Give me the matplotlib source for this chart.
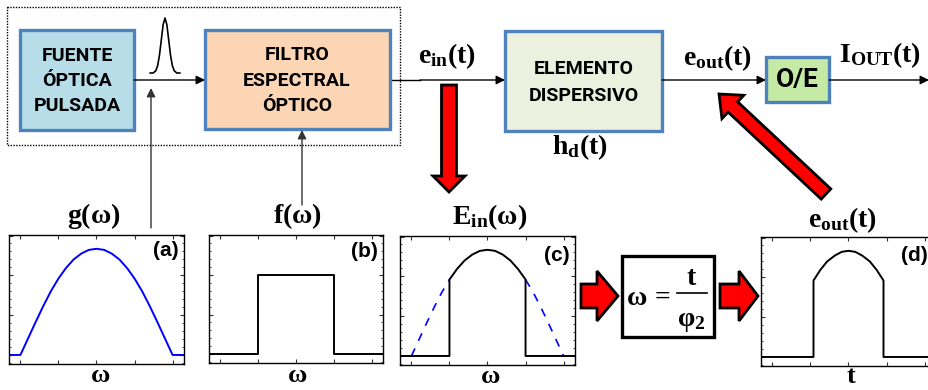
import matplotlib
matplotlib.use("Agg")
import matplotlib.pyplot as plt
from matplotlib.patches import Rectangle, FancyArrow
from matplotlib.ticker import MultipleLocator

plt.rcParams["mathtext.fontset"] = "custom"
plt.rcParams["mathtext.rm"] = "Liberation Serif:bold"
plt.rcParams["mathtext.it"] = "Liberation Serif:bold"
plt.rcParams["mathtext.bf"] = "Liberation Serif:bold"

# ---- data ----------------------------------------------------------------
# (a) source spectrum g(w)
omega_g = [-1.15, -1.0, -0.9, -0.8, -0.7, -0.6, -0.5, -0.4, -0.3, -0.2, -0.1, 0.0,
           0.1, 0.2, 0.3, 0.4, 0.5, 0.6, 0.7, 0.8, 0.9, 1.0, 1.15]
g_vals = [0.0, 0.0, 0.155, 0.31, 0.46, 0.60, 0.72, 0.82, 0.90, 0.955, 0.99, 1.0,
          0.99, 0.955, 0.90, 0.82, 0.72, 0.60, 0.46, 0.31, 0.155, 0.0, 0.0]

# (b) filter f(w)
omega_f = [-1.15, -0.5, -0.5, 0.5, 0.5, 1.15]
f_vals = [0.0, 0.0, 0.75, 0.75, 0.0, 0.0]

# (c) filtered spectrum E_in(w) (solid) over the cut-off tails of g(w) (dashed)
omega_e = [-1.15, -0.5, -0.5, -0.4, -0.3, -0.2, -0.1, 0.0,
           0.1, 0.2, 0.3, 0.4, 0.5, 0.5, 1.15]
e_vals = [0.0, 0.0, 0.72, 0.82, 0.90, 0.955, 0.99, 1.0,
          0.99, 0.955, 0.90, 0.82, 0.72, 0.0, 0.0]
omega_tail_l = [-1.0, -0.9, -0.8, -0.7, -0.6, -0.5]
tail_l_vals = [0.0, 0.155, 0.31, 0.46, 0.60, 0.72]
omega_tail_r = [0.5, 0.6, 0.7, 0.8, 0.9, 1.0]
tail_r_vals = [0.72, 0.60, 0.46, 0.31, 0.155, 0.0]

# (d) output pulse e_out(t)
t_d = [-1.15, -0.46, -0.46, -0.37, -0.28, -0.18, -0.09, 0.0,
       0.09, 0.18, 0.28, 0.37, 0.46, 0.46, 1.15]
d_vals = [0.0, 0.0, 0.72, 0.82, 0.90, 0.955, 0.99, 1.0,
          0.99, 0.955, 0.90, 0.82, 0.72, 0.0, 0.0]

# small pulse drawn over the first arrow
pulse_t = [-4.0, -3.2, -2.5, -2.0, -1.5, -1.0, -0.5, 0.0, 0.5, 1.0, 1.5, 2.0, 2.5, 3.2, 4.0]
pulse_amp = [0.0, 0.0, 0.04, 0.13, 0.32, 0.6, 0.88, 1.0, 0.88, 0.6, 0.32, 0.13, 0.04, 0.0, 0.0]

W, H = 929, 390
BLUE_EDGE = "#4f81bd"
BOXFONT = "Roboto"

fig = plt.figure(figsize=(W / 100, H / 100), dpi=100)
ax = fig.add_axes([0, 0, 1, 1])
ax.set_xlim(0, W)
ax.set_ylim(H, 0)
ax.axis("off")


def box(x0, y0, x1, y1, fc, ec=BLUE_EDGE, lw=2.4):
    ax.add_patch(Rectangle((x0, y0), x1 - x0, y1 - y0, fc=fc, ec=ec, lw=lw,
                           zorder=2))


def box_text(x, y, s, size=14):
    ax.text(x, y, s, ha="center", va="center", fontsize=size,
            fontweight="bold", family=BOXFONT, zorder=6)


def arrow_line(x0, y0, x1, y1, color="black"):
    ax.annotate("", xy=(x1, y1), xytext=(x0, y0),
                arrowprops=dict(arrowstyle="-|>", lw=1.0, color=color,
                                mutation_scale=13, shrinkA=0, shrinkB=0),
                zorder=3)


def red_arrow(x, y, dx, dy, width, head_width, head_length):
    ax.add_patch(FancyArrow(x, y, dx, dy, width=width, head_width=head_width,
                            head_length=head_length, length_includes_head=True,
                            fc="#ff0000", ec="black", lw=2.0, zorder=5))


def label(x, y, s, size=20):
    ax.text(x, y, s, ha="center", va="center", fontsize=size, zorder=6)


# dotted frame around source + filter
ax.add_patch(Rectangle((7, 7), 393, 138, fc="none", ec="black", lw=1.0,
                       ls=(0, (1, 1)), zorder=1))

# blocks
box(20, 30, 134, 130, "#b7dde8")
box(205, 30, 390, 129, "#fcd5b4")
box(505, 31, 662, 131, "#ebf1de")
box(766, 57, 829, 102, "#c4eaa6")

for yy, s in zip([56, 81, 106], ["FUENTE", "ÓPTICA", "PULSADA"]):
    box_text(77, yy, s)
for yy, s in zip([55, 81, 106], ["FILTRO", "ESPECTRAL", "ÓPTICO"]):
    box_text(297, yy, s)
for yy, s in zip([69, 96], ["ELEMENTO", "DISPERSIVO"]):
    box_text(584, yy, s)
box_text(797, 80, "O/E", size=19)

# signal path
arrow_line(134, 80, 205, 80)
ax.plot([390, 420], [80, 80], color="black", lw=1.0, zorder=1)
arrow_line(420, 80, 505, 80)
arrow_line(662, 80, 766, 80)
arrow_line(829, 80, 929, 80)
arrow_line(151, 228, 151, 88, color="#333333")
arrow_line(302, 205, 302, 130, color="#333333")

# pulse sketch
ax.plot([165 + 3.7 * t for t in pulse_t], [73 - 55 * a for a in pulse_amp],
        color="black", lw=1.2, zorder=3)

# signal labels
label(447, 56, r"$\mathrm{e_{in}(t)}$")
label(580, 147, r"$\mathrm{h_{d}(t)}$")
label(717, 58, r"$\mathrm{e_{out}(t)}$")
label(880, 55, r"$\mathrm{I_{OUT}(t)}$")
label(94, 216, r"$\mathrm{g(}\omega\mathrm{)}$")
label(297, 216, r"$\mathrm{f(}\omega\mathrm{)}$")
label(490, 217, r"$\mathrm{E_{in}(}\omega\mathrm{)}$")
label(842, 220, r"$\mathrm{e_{out}(t)}$")
label(100, 375, r"$\omega$", size=19)
label(297, 375, r"$\omega$", size=19)
label(490, 376, r"$\omega$", size=19)
label(851, 376, r"$\mathrm{t}$", size=19)

# red block arrows
red_arrow(449, 85, 0, 107, 15, 32, 16)
red_arrow(826, 194, -107, -100, 14, 32, 19)
red_arrow(581, 296, 37, 0, 24, 50, 21)
red_arrow(720, 296, 38, 0, 24, 50, 19)

# mapping box
ax.add_patch(Rectangle((622, 256), 92, 81, fc="white", ec="black", lw=2.4,
                       zorder=2))
label(649, 297, r"$\omega\,=$", size=20)
ax.plot([677, 707], [293, 293], color="black", lw=1.2, zorder=6)
label(692, 277, r"$\mathrm{t}$", size=20)
label(691, 320, r"$\varphi_{2}$", size=20)


# ---- small spectra / pulse panels -----------------------------------------
def panel(x0, x1, y0, y1, tag, tx, ty):
    a = fig.add_axes([x0 / W, (H - y1) / H, (x1 - x0) / W, (y1 - y0) / H])
    a.set_xlim(-1.15, 1.15)
    a.set_ylim(-0.085, 1.13)
    a.set_xticks([-1.0, -0.5, 0.0, 0.5, 1.0])
    a.yaxis.set_major_locator(MultipleLocator(0.375))
    a.yaxis.set_minor_locator(MultipleLocator(0.075))
    a.tick_params(which="both", direction="in", top=True, right=True,
                  labelbottom=False, labelleft=False, color="#333333")
    a.tick_params(which="major", length=3, width=0.8)
    a.tick_params(which="minor", length=1.5, width=0.6)
    for sp in a.spines.values():
        sp.set_linewidth(1.0)
    a.text(tx, ty, tag, transform=a.transAxes, ha="right", va="center",
           fontsize=15, fontweight="bold", family="Liberation Sans")
    return a


ax_a = panel(9, 184, 235, 364, "(a)", 0.97, 0.88)
ax_a.plot(omega_g, g_vals, color="#0000ff", lw=1.4)

ax_b = panel(209, 383, 235, 363, "(b)", 0.97, 0.87)
ax_b.plot(omega_f, f_vals, color="black", lw=1.4)

ax_c = panel(400, 575, 236, 365, "(c)", 0.97, 0.85)
ax_c.plot(omega_tail_l, tail_l_vals, color="#0000ff", lw=1.2, ls=(0, (5, 5)))
ax_c.plot(omega_tail_r, tail_r_vals, color="#0000ff", lw=1.2, ls=(0, (5, 5)))
ax_c.plot(omega_e, e_vals, color="black", lw=1.4)

ax_d = panel(761, 936, 237, 366, "(d)", 0.955, 0.86)
ax_d.plot(t_d, d_vals, color="black", lw=1.4)

fig.savefig("out.png", dpi=100)
plt.close(fig)
